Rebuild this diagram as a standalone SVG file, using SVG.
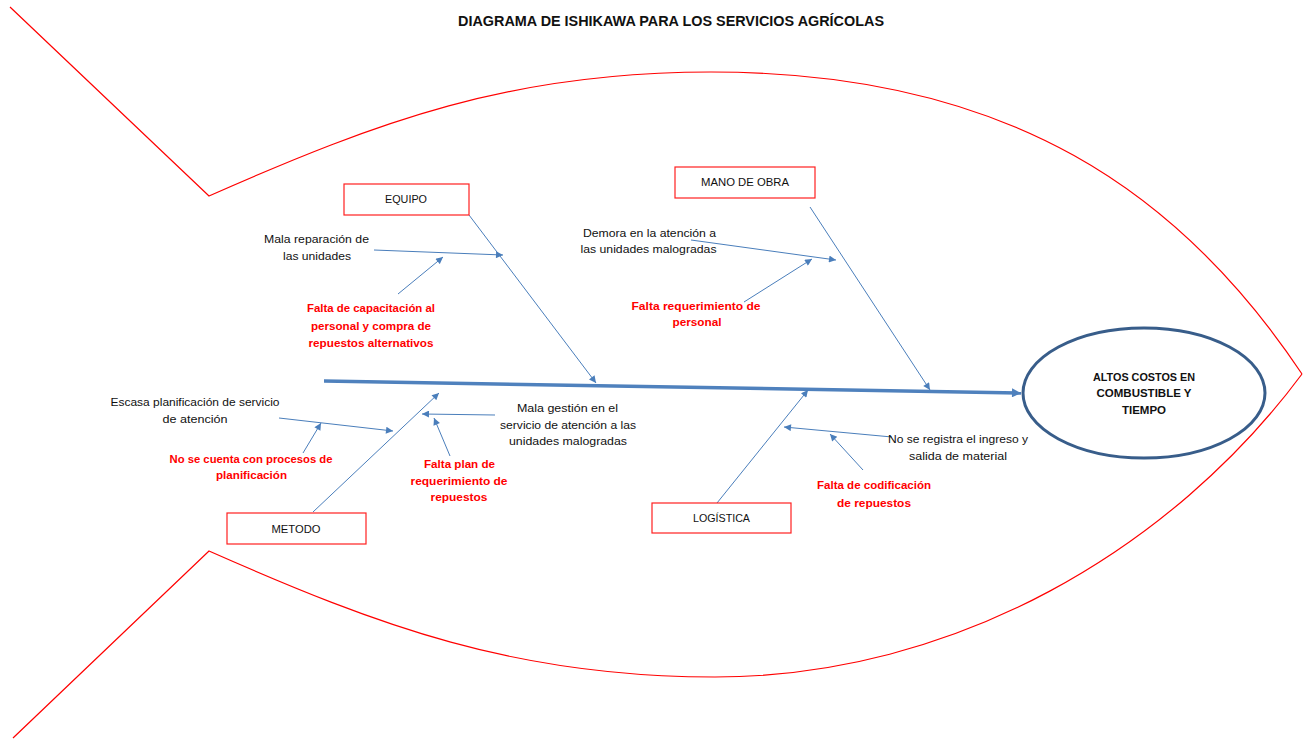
<svg xmlns="http://www.w3.org/2000/svg" width="1310" height="739" viewBox="0 0 1310 739">
<style>
.body{fill:none;stroke:#FF0000;stroke-width:1.2}
.box{fill:#FFFFFF;stroke:#FF2020;stroke-width:1.2}
.t{font-family:"Liberation Sans",Arial,sans-serif;font-size:11.5px;fill:#111111;text-anchor:middle}
.r{font-family:"Liberation Sans",Arial,sans-serif;font-size:11.5px;font-weight:bold;fill:#FF0000;text-anchor:middle}
.b{font-family:"Liberation Sans",Arial,sans-serif;font-weight:bold;fill:#111111;text-anchor:middle}
.c{fill:none;stroke:#4A7EBB;stroke-width:1}
</style>
<defs>
<marker id="ah" viewBox="0 0 10 10" refX="10" refY="5" markerWidth="9" markerHeight="7" markerUnits="userSpaceOnUse" orient="auto"><path d="M0,0 L10,5 L0,10 z" fill="#4A7EBB"/></marker>
<marker id="ahb" viewBox="0 0 10 10" refX="10" refY="5" markerWidth="11" markerHeight="9" markerUnits="userSpaceOnUse" orient="auto"><path d="M0,0 L10,5 L0,10 z" fill="#4F81BD"/></marker>
</defs>
<rect width="1310" height="739" fill="#FFFFFF"/>
<g id="fish">
<path class="body" d="M10,7 L209,196 C379,121 511,72 711,72 C1011,72 1182,194 1302,374"/>
<path class="body" d="M13,738 L209,551 C379,626 515,677 715,677 C955,677 1172,549 1302,374"/>
</g>
<text class="b" x="671" y="26" font-size="14" textLength="426" lengthAdjust="spacingAndGlyphs">DIAGRAMA DE ISHIKAWA PARA LOS SERVICIOS AGRÍCOLAS</text>
<g id="connectors">
<line x1="324" y1="381" x2="1021" y2="393" stroke="#4F81BD" stroke-width="3.5" marker-end="url(#ahb)"/>
<line class="c" x1="469" y1="215" x2="596" y2="383" marker-end="url(#ah)"/>
<line class="c" x1="374" y1="250" x2="503" y2="255" marker-end="url(#ah)"/>
<line class="c" x1="398" y1="294" x2="443" y2="257" marker-end="url(#ah)"/>
<line class="c" x1="810" y1="207" x2="930" y2="390" marker-end="url(#ah)"/>
<line class="c" x1="691" y1="240" x2="836" y2="260" marker-end="url(#ah)"/>
<line class="c" x1="744" y1="302" x2="812" y2="259" marker-end="url(#ah)"/>
<line class="c" x1="313" y1="512" x2="439" y2="393" marker-end="url(#ah)"/>
<line class="c" x1="279" y1="418" x2="393" y2="431" marker-end="url(#ah)"/>
<line class="c" x1="303" y1="453" x2="321" y2="423" marker-end="url(#ah)"/>
<line class="c" x1="495" y1="415" x2="422" y2="414" marker-end="url(#ah)"/>
<line class="c" x1="450" y1="456" x2="434" y2="418" marker-end="url(#ah)"/>
<line class="c" x1="717" y1="503" x2="808" y2="390" marker-end="url(#ah)"/>
<line class="c" x1="892" y1="437" x2="784" y2="427" marker-end="url(#ah)"/>
<line class="c" x1="863" y1="470" x2="830" y2="434" marker-end="url(#ah)"/>
</g>
<g id="efecto">
<ellipse cx="1144" cy="393" rx="121" ry="65" fill="#FFFFFF" stroke="#385D8A" stroke-width="3"/>
<text class="b" font-size="11.5" x="1144" y="381" textLength="102" lengthAdjust="spacingAndGlyphs">ALTOS COSTOS EN</text>
<text class="b" font-size="11.5" x="1144" y="397">COMBUSTIBLE Y</text>
<text class="b" font-size="11.5" x="1144" y="414">TIEMPO</text>
</g>
<g id="equipo">
<rect class="box" x="344" y="184" width="125" height="31"/>
<text class="t" x="406" y="203" textLength="42" lengthAdjust="spacingAndGlyphs">EQUIPO</text>
</g>
<g id="mano-de-obra">
<rect class="box" x="675" y="167" width="140" height="31"/>
<text class="t" x="745" y="186" textLength="88" lengthAdjust="spacingAndGlyphs">MANO DE OBRA</text>
</g>
<g id="metodo">
<rect class="box" x="227" y="513" width="139" height="31"/>
<text class="t" x="296" y="533" textLength="49" lengthAdjust="spacingAndGlyphs">METODO</text>
</g>
<g id="logistica">
<rect class="box" x="652" y="503" width="139" height="30"/>
<text class="t" x="721.5" y="522" textLength="57" lengthAdjust="spacingAndGlyphs">LOGÍSTICA</text>
</g>
<g id="mala-reparacion">
<text class="t" x="316.5" y="243" textLength="105" lengthAdjust="spacingAndGlyphs">Mala reparación de</text>
<text class="t" x="317" y="260" textLength="68" lengthAdjust="spacingAndGlyphs">las unidades</text>
</g>
<g id="falta-capacitacion">
<text class="r" x="371" y="312" textLength="128" lengthAdjust="spacingAndGlyphs">Falta de capacitación al</text>
<text class="r" x="371" y="330" textLength="120" lengthAdjust="spacingAndGlyphs">personal y compra de</text>
<text class="r" x="371" y="347" textLength="125" lengthAdjust="spacingAndGlyphs">repuestos alternativos</text>
</g>
<g id="demora">
<text class="t" x="649.5" y="237" textLength="133" lengthAdjust="spacingAndGlyphs">Demora en la atención a</text>
<text class="t" x="648.5" y="253" textLength="136" lengthAdjust="spacingAndGlyphs">las unidades malogradas</text>
</g>
<g id="falta-personal">
<text class="r" x="696" y="310" textLength="129" lengthAdjust="spacingAndGlyphs">Falta requerimiento de</text>
<text class="r" x="697" y="326" textLength="49" lengthAdjust="spacingAndGlyphs">personal</text>
</g>
<g id="escasa">
<text class="t" x="195" y="406" textLength="169" lengthAdjust="spacingAndGlyphs">Escasa planificación de servicio</text>
<text class="t" x="195" y="423" textLength="65" lengthAdjust="spacingAndGlyphs">de atención</text>
</g>
<g id="no-procesos">
<text class="r" x="251" y="463" textLength="163" lengthAdjust="spacingAndGlyphs">No se cuenta con procesos de</text>
<text class="r" x="251.5" y="479" textLength="71" lengthAdjust="spacingAndGlyphs">planificación</text>
</g>
<g id="mala-gestion">
<text class="t" x="567.5" y="412" textLength="101" lengthAdjust="spacingAndGlyphs">Mala gestión en el</text>
<text class="t" x="568" y="429" textLength="136" lengthAdjust="spacingAndGlyphs">servicio de atención a las</text>
<text class="t" x="568" y="445" textLength="118" lengthAdjust="spacingAndGlyphs">unidades malogradas</text>
</g>
<g id="falta-plan">
<text class="r" x="459.5" y="468" textLength="71" lengthAdjust="spacingAndGlyphs">Falta plan de</text>
<text class="r" x="459" y="485" textLength="97" lengthAdjust="spacingAndGlyphs">requerimiento de</text>
<text class="r" x="459" y="501" textLength="57" lengthAdjust="spacingAndGlyphs">repuestos</text>
</g>
<g id="no-registra">
<text class="t" x="958" y="443" textLength="140" lengthAdjust="spacingAndGlyphs">No se registra el ingreso y</text>
<text class="t" x="958" y="460" textLength="98" lengthAdjust="spacingAndGlyphs">salida de material</text>
</g>
<g id="falta-codificacion">
<text class="r" x="874" y="489" textLength="114" lengthAdjust="spacingAndGlyphs">Falta de codificación</text>
<text class="r" x="874" y="507" textLength="74" lengthAdjust="spacingAndGlyphs">de repuestos</text>
</g>
</svg>
